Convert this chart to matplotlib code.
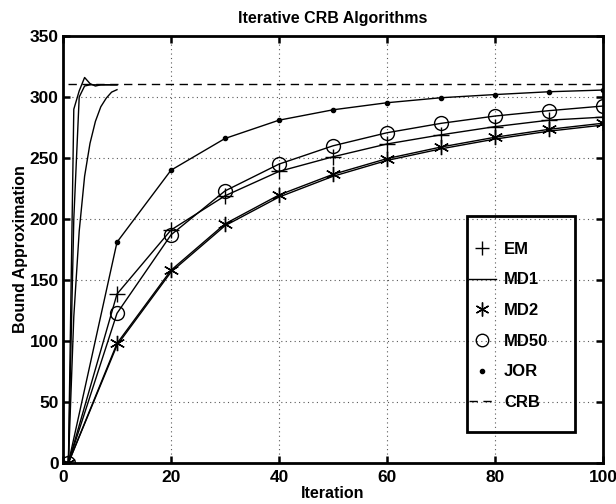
import numpy as np
import matplotlib
matplotlib.use('Agg')
from matplotlib import pyplot as plt
from matplotlib.lines import Line2D
from matplotlib.patches import Rectangle

plt.rcParams['font.family'] = ['Liberation Sans', 'DejaVu Sans']
plt.rcParams['font.weight'] = 'bold'

# iterations where the markers sit
iters = [1, 10, 20, 30, 40, 50, 60, 70, 80, 90, 100]
em   = [0, 138.5, 191, 219, 239, 251, 261.5, 269, 275.7, 281, 283.5]
md1  = [0, 96.5, 156.5, 194.5, 218, 235, 248, 257.5, 265.5, 272, 277]
md2  = [0, 98, 158, 196, 219.7, 236.6, 249.5, 259, 267, 273.5, 278.5]
md50 = [0, 122.7, 187, 223, 245, 260, 270.7, 278.4, 284.4, 288.8, 292.6]
jor  = [0, 181, 240, 266, 281, 289.5, 295.3, 299.4, 302, 304.3, 305.7]

# fast converging runs, first 10 iterations
fast_iters = [1, 2, 3, 4, 5, 6, 7, 8, 9, 10]
fast_a = [0, 290, 305, 316, 311, 309, 310, 310, 310, 310]
fast_b = [0, 200, 300, 309, 310, 310, 310, 310, 310, 310]
fast_c = [0, 120, 190, 235, 262, 280, 292, 299, 304, 306]

crb_value = 310.5
crb_iters = [1, 100]

fig = plt.figure(figsize=(6.16, 5.04), dpi=100)
ax = fig.add_axes([63/616, 1-463/504, 540/616, 427/504])

lw = 1.0
ax.plot(fast_iters, fast_a, color='k', lw=lw)
ax.plot(fast_iters, fast_b, color='k', lw=lw)
ax.plot(fast_iters, fast_c, color='k', lw=lw)

star = (6, 2, 0)
ax.plot(iters, em, color='k', lw=lw, marker='+', ms=11, mew=1.0)
ax.plot(iters, md1, color='k', lw=lw)
ax.plot(iters, md2, color='k', lw=lw, marker=star, ms=11, mew=1.0)
ax.plot(iters, md50, color='k', lw=lw, marker='o', ms=10, mfc='none', mew=1.0)
ax.plot(iters, jor, color='k', lw=lw, marker='.', ms=6)
ax.plot(crb_iters, [crb_value, crb_value], color='k', lw=lw, ls=(0, (6, 4)))

ax.set_xlim(0, 100)
ax.set_ylim(0, 350)
ax.set_xticks(np.arange(0, 101, 20))
ax.set_yticks(np.arange(0, 351, 50))
ax.grid(True, color='0.35', ls=(0, (1, 3)), lw=0.8)
ax.tick_params(direction='in', length=5, width=1.8, top=True, right=True,
               labelsize=12.5)
ax.tick_params(axis='x', pad=5)
ax.tick_params(axis='y', pad=3)
for lab in ax.get_xticklabels() + ax.get_yticklabels():
    lab.set_fontweight('bold')
for s in ax.spines.values():
    s.set_linewidth(2.0)

ax.set_title('Iterative CRB Algorithms', fontsize=11.5, fontweight='bold', pad=9)
ax.set_xlabel('Iteration', fontsize=11.5, fontweight='bold', labelpad=1)
ax.set_ylabel('Bound Approximation', fontsize=11.5, fontweight='bold', labelpad=1)

# legend: markers only, box drawn separately (transparent, grid shows through)
handles = [
    Line2D([], [], color='k', ls='none', marker='+', ms=10, mew=1.0),
    Line2D([], [], color='k', lw=lw),
    Line2D([], [], color='k', ls='none', marker=star, ms=10, mew=1.0),
    Line2D([], [], color='k', ls='none', marker='o', ms=9, mfc='none', mew=1.0),
    Line2D([], [], color='k', ls='none', marker='.', ms=6),
    Line2D([], [], color='k', lw=lw, ls=(0, (6, 4))),
]
labels = ['EM', 'MD1', 'MD2', 'MD50', 'JOR', 'CRB']
ax.legend(handles, labels, loc='upper left', bbox_to_anchor=(0.752, 0.518),
          frameon=False, prop={'weight': 'bold', 'size': 12},
          handlelength=1.6, handletextpad=0.5, labelspacing=0.94,
          borderpad=0, borderaxespad=0)
ax.add_patch(Rectangle((0.748, 0.0726), 0.2, 0.505, transform=ax.transAxes,
                       fill=False, ec='k', lw=2.0, zorder=5))

fig.savefig('out.png', dpi=100)
